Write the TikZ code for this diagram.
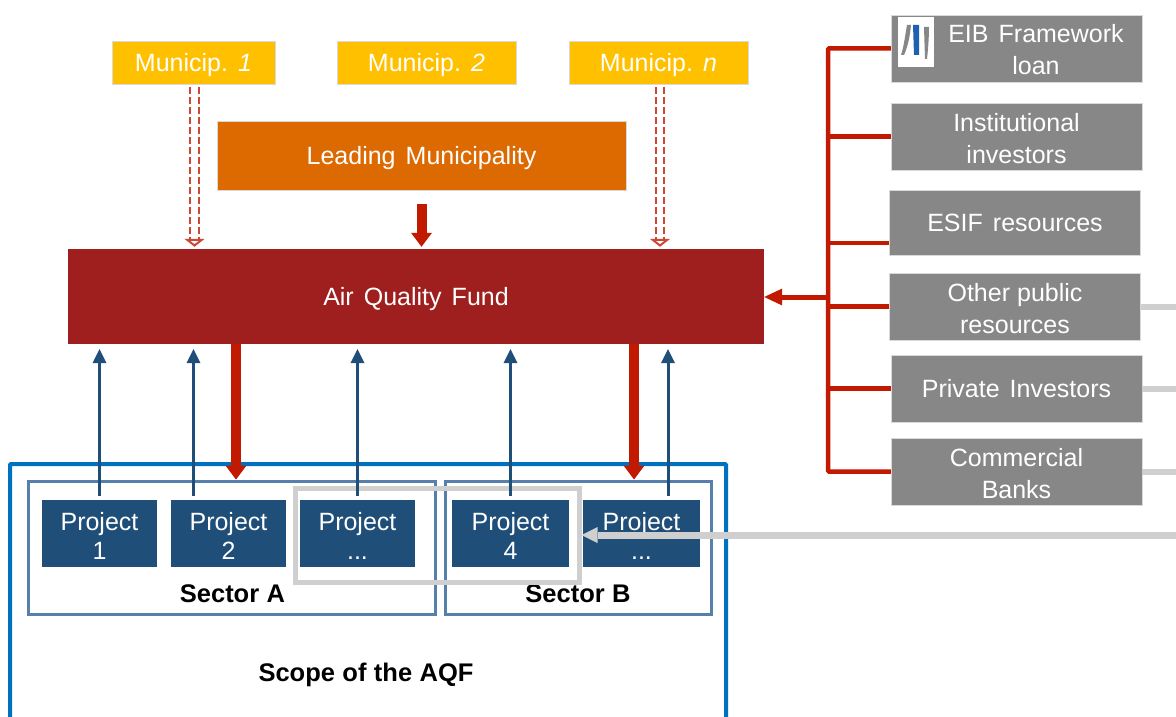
\documentclass[tikz,border=0pt]{standalone}
\usepackage{fontspec}
\setmainfont[WordSpace=1.45,BoldFeatures={WordSpace=1.05}]{Liberation Sans}
\usetikzlibrary{arrows.meta,calc}
\definecolor{muniyellow}{HTML}{FFC000}
\definecolor{leadorange}{HTML}{DD6A00}
\definecolor{funddark}{HTML}{9E1F1E}
\definecolor{flowred}{HTML}{C11A00}
\definecolor{sourcegrey}{HTML}{878787}
\definecolor{linkgrey}{HTML}{CFCFCF}
\definecolor{projblue}{HTML}{1F4E79}
\definecolor{sectorblue}{HTML}{5580AB}
\definecolor{scopeblue}{HTML}{0070C0}
\definecolor{logoblue}{HTML}{2060B0}
\newcommand{\toproom}{\rule{0pt}{22.5pt}}

\begin{document}
\begin{tikzpicture}[x=1pt,y=-1pt]
% Styles for each kind of box
\tikzstyle{plain box}=[rectangle,inner sep=0,text=white,align=center,text depth=-4,font=\fontsize{25}{32}\selectfont]
\tikzstyle{muni node}=[plain box,fill=muniyellow,draw=black!15,line width=.5,minimum height=43,text depth=-1]
\tikzstyle{source node}=[plain box,fill=sourcegrey,draw=black!15,line width=.5,minimum width=251,minimum height=67]
\tikzstyle{project node}=[plain box,fill=projblue,minimum height=67,text depth=-5,font=\fontsize{25}{29}\selectfont]
\tikzstyle{caption node}=[inner sep=0,text depth=-2,font=\fontsize{25.5}{30}\selectfont\bfseries]
\tikzset{
red flow/.style={draw=flowred,line width=10,-{Triangle[length=14,width=21,line width=0]}},
red bus/.style={draw=flowred,line width=4.5,rounded corners=1},
blue flow/.style={draw=projblue,line width=3,-{Triangle[length=14,width=14,line width=0]}},
grey link/.style={draw=linkgrey,line width=6},
dashed flow/.style={draw=flowred!80!white,line width=2,dash pattern=on 7 off 3,double=white,double distance=6.5,
-{Triangle[open,length=8,width=20,line width=2,fill=white]}}
}
\useasboundingbox (0,0) rectangle (1176,717);

% Scope and sectors
\coordinate (scopeL) at (10,717);
\coordinate (scopeR) at (726,717);
\draw[scopeblue,line width=4,rounded corners=1] (scopeL) -- (scopeL |- 0,464) -- (scopeR |- 0,464) -- (scopeR);
\node[draw=sectorblue,line width=3,minimum width=407,minimum height=133,inner sep=0] (sectorA) at (231.5,547.5) {};
\node[draw=sectorblue,line width=3,minimum width=266,minimum height=133,inner sep=0] (sectorB) at (578,547.5) {};
\node[caption node] (labelA) at (232.5,594) {Sector A};
\node[caption node] (labelB) at (578,594) {Sector B};
\node[caption node,text depth=-1] (labelScope) at (366,672) {Scope of the AQF};

% Projects
\node[project node,minimum width=115] (projA) at (99.5,533.5) {\toproom Project\\1};
\node[project node,minimum width=115] (projB) at (228.5,533.5) {\toproom Project\\2};
\node[project node,minimum width=115] (projC) at (357.5,533.5) {\toproom Project\\...};
\node[project node,minimum width=117] (projD) at (510.5,533.5) {\toproom Project\\4};
\node[project node,minimum width=117] (projE) at (641.5,533.5) {\toproom Project\\...};
\node[draw=linkgrey,line width=5,minimum width=284,minimum height=94,inner sep=0] (blend) at (437,535) {};

% Top row
\node[muni node,minimum width=163] (muniA) at (193.5,62.5) {Municip.~\textit{1}};
\node[muni node,minimum width=179] (muniB) at (426.5,62.5) {Municip.~\textit{2}};
\node[muni node,minimum width=179] (muniN) at (658.5,62.5) {Municip.~\textit{n}};
\node[plain box,fill=leadorange,draw=black!15,line width=.5,minimum width=409,minimum height=69] (lead) at (421.5,155.5) {Leading Municipality};
\node[plain box,fill=funddark,minimum width=696,minimum height=95] (fund) at (416,296.5) {Air Quality Fund};

% Sources
\node[source node] (eib) at (1016.5,48.5) {};
\node[plain box] (eibText) at (1036,49.5) {EIB Framework\\loan};
\node[fill=white,minimum width=36,minimum height=50,inner sep=0] (logo) at (916,42) {};
\fill[sourcegrey] (901,55) .. controls (904,46) and (905,36) .. (907,25) -- (911,25) .. controls (910,36) and (908,46) .. (904,55) -- cycle;
\fill[logoblue] (913,25) -- (919,25) -- (919,55) -- (914,55) -- cycle;
\fill[sourcegrey] (924,27) -- (929,27) .. controls (929,38) and (928,50) .. (927,59) -- (925,59) -- cycle;
\node[source node] (inst) at (1016.5,136.5) {\toproom Institutional\\investors};
\node[source node,minimum height=65] (esif) at (1015,222.5) {ESIF resources};
\node[source node] (other) at (1015,306.5) {\toproom Other\hspace{-.12em} public\\resources};
\node[source node] (private) at (1016.5,388.5) {Private Investors};
\node[source node] (banks) at (1016.5,471.5) {\toproom Commercial\\Banks};

% Red bus on the right
\coordinate (busTop) at (828,48.5);
\coordinate (busEnd) at (828,471.5);
\coordinate (esifIn) at (889,243);
\draw[red bus] (eib.west |- busTop) -- (busTop) -- (busEnd) -- (banks.west |- busEnd);
\draw[red bus] (busTop |- inst.west) -- (inst.west);
\draw[red bus] (busTop |- esifIn) -- (esifIn);
\draw[red bus] (busTop |- other.west) -- (other.west);
\draw[red bus] (busTop |- private.west) -- (private.west);
\coordinate (busOut) at (828,297);
\draw[draw=flowred,line width=5,-{Triangle[length=18,width=17,line width=0]}] (busOut) -- (busOut -| fund.east);

% Flows into and out of the fund
\draw[red flow] ($(lead.south)+(0,14)$) -- ($(lead.south |- fund.north)+(0,-2)$);
\coordinate (outA) at (236,344);
\coordinate (outB) at (634,344);
\draw[red flow] (outA) -- (outA |- sectorA.north);
\draw[red flow] (outB) -- (outB |- sectorB.north);
\coordinate (dashA) at (194.5,87);
\coordinate (dashN) at (660,87);
\draw[dashed flow] (dashA) -- ($(dashA |- fund.north)+(0,-2)$);
\draw[dashed flow] (dashN) -- ($(dashN |- fund.north)+(0,-2)$);
\coordinate (upB) at (193.5,496);
\coordinate (upE) at (668,496);
\draw[blue flow] ($(projA.north)+(0,-4)$) -- ($(projA.north |- fund.south)+(0,5)$);
\draw[blue flow] (upB) -- ($(upB |- fund.south)+(0,5)$);
\draw[blue flow] ($(projC.north)+(0,-4)$) -- ($(projC.north |- fund.south)+(0,5)$);
\draw[blue flow] ($(projD.north)+(0,-4)$) -- ($(projD.north |- fund.south)+(0,5)$);
\draw[blue flow] (upE) -- ($(upE |- fund.south)+(0,5)$);

% Grey links to the blended group
\coordinate (edgeA) at (1176,307);
\coordinate (edgeB) at (1176,389);
\coordinate (edgeC) at (1176,472);
\coordinate (edgeD) at (1176,535);
\draw[grey link] (other.east |- edgeA) -- (edgeA);
\draw[grey link] (private.east |- edgeB) -- (edgeB);
\draw[grey link] (banks.east |- edgeC) -- (edgeC);
\draw[draw=linkgrey,line width=7,-{Triangle[length=16,width=16,line width=0]}] (edgeD) -- (blend.east |- edgeD);
\end{tikzpicture}
\end{document}
